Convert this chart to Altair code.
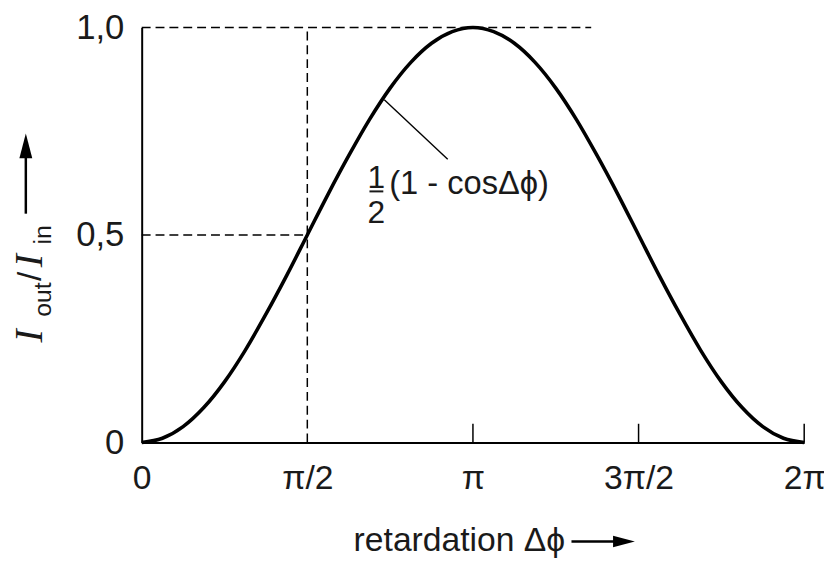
import altair as alt
import pandas as pd

# Curve: x in units of pi, y = I_out/I_in
phase_pi = [0, 0.0625, 0.125, 0.1875, 0.25, 0.3125, 0.375, 0.4375, 0.5,
            0.5625, 0.625, 0.6875, 0.75, 0.8125, 0.875, 0.9375, 1.0,
            1.0625, 1.125, 1.1875, 1.25, 1.3125, 1.375, 1.4375, 1.5,
            1.5625, 1.625, 1.6875, 1.75, 1.8125, 1.875, 1.9375, 2.0]
intensity = [0.000, 0.010, 0.038, 0.084, 0.146, 0.222, 0.309, 0.402, 0.500,
             0.598, 0.691, 0.778, 0.854, 0.916, 0.962, 0.990, 1.000,
             0.990, 0.962, 0.916, 0.854, 0.778, 0.691, 0.598, 0.500,
             0.402, 0.309, 0.222, 0.146, 0.084, 0.038, 0.010, 0.000]

x_tick_values = [0, 0.5, 1, 1.5, 2]
x_tick_labels = ["0", "π/2", "π", "3π/2", "2π"]
y_tick_values = [0, 0.5, 1]
y_tick_labels = ["0", "0,5", "1,0"]

# dashed guide lines
guide_x = [0, 0, 0.5]
guide_x2 = [1.357, 0.5, 0.5]
guide_y = [1, 0.5, 0]
guide_y2 = [1, 0.5, 1]

# inner tick marks
tick_x = [1, 1.5, 2]

FONT = "Liberation Sans Narrow, Arial Narrow, Liberation Sans, Arial, sans-serif"
SERIF = "Liberation Serif"
INK = "#1a1a1a"

def label_expr(values, labels):
    parts = [f"datum.value == {v} ? '{l}'" for v, l in zip(values, labels)]
    return " : ".join(parts) + " : ''"

curve_df = pd.DataFrame({"x": phase_pi, "y": intensity})
guide_df = pd.DataFrame({"x": guide_x, "x2": guide_x2, "y": guide_y, "y2": guide_y2})
tick_df = pd.DataFrame({"x": tick_x, "y": [0] * 3, "y2": [0.045] * 3})

xscale = alt.Scale(domain=[0, 2], nice=False, zero=False)
yscale = alt.Scale(domain=[0, 1], nice=False, zero=False)

base_x = alt.X("x:Q", scale=xscale, axis=alt.Axis(
    values=x_tick_values, labelExpr=label_expr(x_tick_values, x_tick_labels),
    title=None, grid=False, ticks=False, tickSize=0, domainColor="black",
    domainWidth=2, labelFont=FONT, labelFontSize=34, labelColor=INK,
    labelPadding=20, labelBaseline="top", labelFlush=False, labelOverlap=False))
base_y = alt.Y("y:Q", scale=yscale, axis=alt.Axis(
    values=y_tick_values, labelExpr=label_expr(y_tick_values, y_tick_labels),
    title=None, grid=False, ticks=False, tickSize=0, domainColor="black",
    domainWidth=2, labelFont=FONT, labelFontSize=35, labelColor=INK,
    labelPadding=18, labelBaseline="middle", labelFlush=False, labelOverlap=False))

curve = alt.Chart(curve_df).mark_line(color="black", strokeWidth=3.6,
                                       interpolate="monotone").encode(x=base_x, y=base_y)

guides = alt.Chart(guide_df).mark_rule(color="black", strokeWidth=1.5,
                                        strokeDash=[9, 5]).encode(
    x=alt.X("x:Q", scale=xscale), x2="x2:Q",
    y=alt.Y("y:Q", scale=yscale), y2="y2:Q")

ticks = alt.Chart(tick_df).mark_rule(color="black", strokeWidth=1.5).encode(
    x=alt.X("x:Q", scale=xscale), y=alt.Y("y:Q", scale=yscale), y2="y2:Q")

# annotation
leader_df = pd.DataFrame({"x": [0.7324], "x2": [0.9238], "y": [0.8258], "y2": [0.6826]})
leader = alt.Chart(leader_df).mark_rule(color="black", strokeWidth=1.4).encode(
    x=alt.X("x:Q", scale=xscale), x2="x2:Q",
    y=alt.Y("y:Q", scale=yscale), y2="y2:Q")

ann_df = pd.DataFrame({"x": [0.747], "y": [0.599], "t": ["(1 - cosΔϕ)"]})
ann = alt.Chart(ann_df).mark_text(font=FONT, fontSize=33, align="left",
                                  baseline="alphabetic", color=INK).encode(
    x=alt.X("x:Q", scale=xscale), y=alt.Y("y:Q", scale=yscale), text="t:N")

frac_df = pd.DataFrame({"x": [0.7085, 0.7085], "y": [0.613, 0.530], "t": ["1", "2"]})
frac = alt.Chart(frac_df).mark_text(font=FONT, fontSize=32, align="center",
                                    baseline="alphabetic", color=INK).encode(
    x=alt.X("x:Q", scale=xscale), y=alt.Y("y:Q", scale=yscale), text="t:N")

fbar_df = pd.DataFrame({"x": [0.6876], "x2": [0.7294], "y": [0.605]})
fbar = alt.Chart(fbar_df).mark_rule(color=INK, strokeWidth=2).encode(
    x=alt.X("x:Q", scale=xscale), x2="x2:Q", y=alt.Y("y:Q", scale=yscale))

# y title pieces (rotated), pixel positions relative to plot origin
yt_text = ["I", "out", "/", "I", "in"]
yt_font = [SERIF, FONT, FONT, SERIF, FONT]
yt_style = ["italic", "normal", "normal", "italic", "normal"]
yt_size = [40, 25, 34, 40, 25]
yt_x = [-101, -92, -102, -101, -92]
yt_y = [318, 292, 256, 242, 219]
ytitle_layers = []
for t, f, s, fs, px, py in zip(yt_text, yt_font, yt_style, yt_size, yt_x, yt_y):
    ytitle_layers.append(
        alt.Chart(pd.DataFrame({"t": [t]})).mark_text(
            font=f, fontStyle=s, fontSize=fs, angle=270, align="left",
            baseline="alphabetic", color=INK).encode(
            x=alt.value(px), y=alt.value(py), text="t:N"))

arrow_up_shaft = alt.Chart(pd.DataFrame({"a": [0]})).mark_rule(
    color="black", strokeWidth=2.5).encode(
    x=alt.value(-117), y=alt.value(188), y2=alt.value(125))
arrow_up_head = alt.Chart(pd.DataFrame({"a": [0]})).mark_point(
    shape="M-0.52,1L0,-1L0.52,1Z", filled=True, color="black", opacity=1,
    size=625).encode(x=alt.value(-117), y=alt.value(119.5))

xtitle = alt.Chart(pd.DataFrame({"t": ["retardation Δϕ"]})).mark_text(
    font=FONT, fontSize=34, align="left", baseline="alphabetic", color=INK).encode(
    x=alt.value(214), y=alt.value(529), text="t:N")
arrow_r_shaft = alt.Chart(pd.DataFrame({"a": [0]})).mark_rule(
    color="black", strokeWidth=2.5).encode(
    x=alt.value(434), x2=alt.value(485), y=alt.value(519))
arrow_r_head = alt.Chart(pd.DataFrame({"a": [0]})).mark_point(
    shape="M-1,-0.52L1,0L-1,0.52Z", filled=True, color="black", opacity=1,
    size=484).encode(x=alt.value(487), y=alt.value(519))

chart = alt.layer(
    guides, ticks, curve, leader, ann, frac, fbar,
    *ytitle_layers, arrow_up_shaft, arrow_up_head,
    xtitle, arrow_r_shaft, arrow_r_head
).properties(
    width=669, height=419,
    background="white",
    autosize=alt.AutoSizeParams(type="none"),
    padding={"left": 135, "top": 17, "right": 20, "bottom": 114},
).configure_view(stroke="transparent", strokeWidth=0)

chart.save("out.html", embed_options={"renderer": "svg", "actions": False})
